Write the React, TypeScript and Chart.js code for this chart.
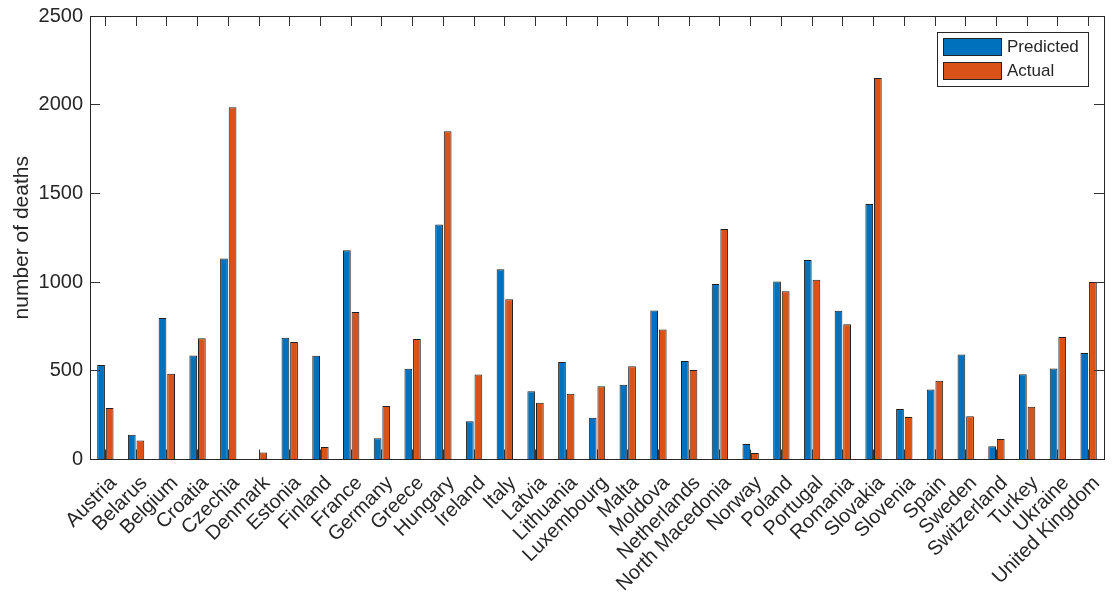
import React, { useEffect, useRef } from 'react';
import { Chart, registerables } from 'chart.js';

Chart.register(...registerables);

const countries = [
  'Austria', 'Belarus', 'Belgium', 'Croatia', 'Czechia', 'Denmark', 'Estonia', 'Finland',
  'France', 'Germany', 'Greece', 'Hungary', 'Ireland', 'Italy', 'Latvia', 'Lithuania',
  'Luxembourg', 'Malta', 'Moldova', 'Netherlands', 'North Macedonia', 'Norway', 'Poland',
  'Portugal', 'Romania', 'Slovakia', 'Slovenia', 'Spain', 'Sweden', 'Switzerland', 'Turkey',
  'Ukraine', 'United Kingdom',
];

const predicted = [
  533, 139, 797, 586, 1133, 0, 686, 585, 1179, 120, 511, 1325, 216, 1072, 385, 549,
  235, 421, 840, 555, 989, 88, 1004, 1124, 838, 1440, 284, 395, 592, 75, 481, 513, 601,
];

const actual = [
  290, 107, 483, 684, 1985, 40, 662, 71, 831, 301, 679, 1851, 479, 904, 320, 370,
  413, 525, 733, 504, 1299, 37, 949, 1013, 763, 2150, 239, 444, 244, 115, 297, 690, 1000,
];

const yMin = 0;
const yMax = 2500;
const yStep = 500;

const FONT = '"Liberation Sans", Arial, Helvetica, sans-serif';
const AX = '#262626';
const BLUE = '#0072BD';
const ORANGE = '#D95319';

const legendPlugin = {
  id: 'matlabLegend',
  afterDraw(chart: any) {
    const { ctx, chartArea } = chart;
    const ds = chart.data.datasets.filter((d: any) => d.label);
    const w = 151;
    const h = 54;
    const rowH = 24;
    const x = Math.round(chartArea.right - 16 - w);
    const y = Math.round(chartArea.top + 16);
    ctx.save();
    ctx.fillStyle = '#ffffff';
    ctx.fillRect(x, y, w, h);
    ctx.strokeStyle = AX;
    ctx.lineWidth = 1;
    ctx.strokeRect(x + 0.5, y + 0.5, w, h);
    ctx.font = `17px ${FONT}`;
    ctx.textBaseline = 'middle';
    ctx.textAlign = 'left';
    ds.forEach((d: any, i: number) => {
      const py = y + 6 + i * rowH;
      ctx.fillStyle = d.backgroundColor;
      ctx.fillRect(x + 6, py, 59, 18);
      ctx.strokeStyle = '#222';
      ctx.strokeRect(x + 6.5, py + 0.5, 58, 17);
      ctx.fillStyle = AX;
      ctx.fillText(d.label, x + 70, py + 9.5);
    });
    ctx.restore();
  },
};

export default function App() {
  const ref = useRef<HTMLCanvasElement | null>(null);

  useEffect(() => {
    document.body.style.margin = '0';
    if (!ref.current) return;
    const tickGrid = {
      offset: false,
      drawOnChartArea: false,
      drawTicks: true,
      tickLength: -10,
      color: '#333333',
      lineWidth: 1,
      z: 1,
    };
    const border = { color: AX, width: 1, z: 2 };
    const chart = new Chart(ref.current, {
      type: 'bar',
      data: {
        labels: countries,
        datasets: [
          {
            label: 'Predicted',
            data: predicted,
            backgroundColor: BLUE,
            borderColor: '#1f1f1f',
            borderWidth: 1,
            categoryPercentage: 0.56,
            barPercentage: 0.9,
            xAxisID: 'x',
            yAxisID: 'y',
          },
          {
            label: 'Actual',
            data: actual,
            backgroundColor: ORANGE,
            borderColor: '#1f1f1f',
            borderWidth: 1,
            categoryPercentage: 0.56,
            barPercentage: 0.9,
            xAxisID: 'x',
            yAxisID: 'y',
          },
        ],
      },
      plugins: [legendPlugin],
      options: {
        animation: false,
        responsive: false,
        maintainAspectRatio: false,
        layout: { padding: { top: 16, right: 12, left: 0, bottom: 0 } },
        plugins: {
          legend: { display: false },
          tooltip: { enabled: false },
        },
        scales: {
          x: {
            type: 'category',
            position: 'bottom',
            offset: true,
            grid: tickGrid,
            border,
            ticks: {
              autoSkip: false,
              maxRotation: 45,
              minRotation: 45,
              padding: 22,
              labelOffset: 8,
              color: AX,
              font: { family: FONT, size: 20 },
            },
            afterFit: (s: any) => {
              s.height = 594 - 459.5;
              s.paddingLeft = 0;
              s.paddingRight = 0;
            },
          },
          x2: {
            type: 'category',
            position: 'top',
            labels: countries,
            offset: true,
            grid: tickGrid,
            border,
            ticks: { display: false, autoSkip: false },
            afterFit: (s: any) => {
              s.height = 0;
              s.paddingLeft = 0;
              s.paddingRight = 0;
            },
          },
          y: {
            type: 'linear',
            position: 'left',
            min: yMin,
            max: yMax,
            grid: tickGrid,
            border,
            ticks: {
              stepSize: yStep,
              padding: 17,
              color: AX,
              font: { family: FONT, size: 20 },
              callback: (v: any) => String(v),
            },
            title: {
              display: true,
              text: 'number of deaths',
              color: AX,
              font: { family: FONT, size: 21 },
              padding: { top: 10, bottom: 0 },
            },
            afterFit: (s: any) => {
              s.width = 90;
              s.paddingTop = 0;
              s.paddingBottom = 0;
            },
          },
          y2: {
            type: 'linear',
            position: 'right',
            min: yMin,
            max: yMax,
            grid: tickGrid,
            border,
            ticks: { display: false, stepSize: yStep },
            afterFit: (s: any) => {
              s.width = 0;
              s.paddingTop = 0;
              s.paddingBottom = 0;
            },
          },
        },
      },
    } as any);
    return () => chart.destroy();
  }, []);

  return (
    <div style={{ width: 1116, height: 594, background: '#ffffff' }}>
      <canvas ref={ref} width={1116} height={594} style={{ display: 'block' }} />
    </div>
  );
}
